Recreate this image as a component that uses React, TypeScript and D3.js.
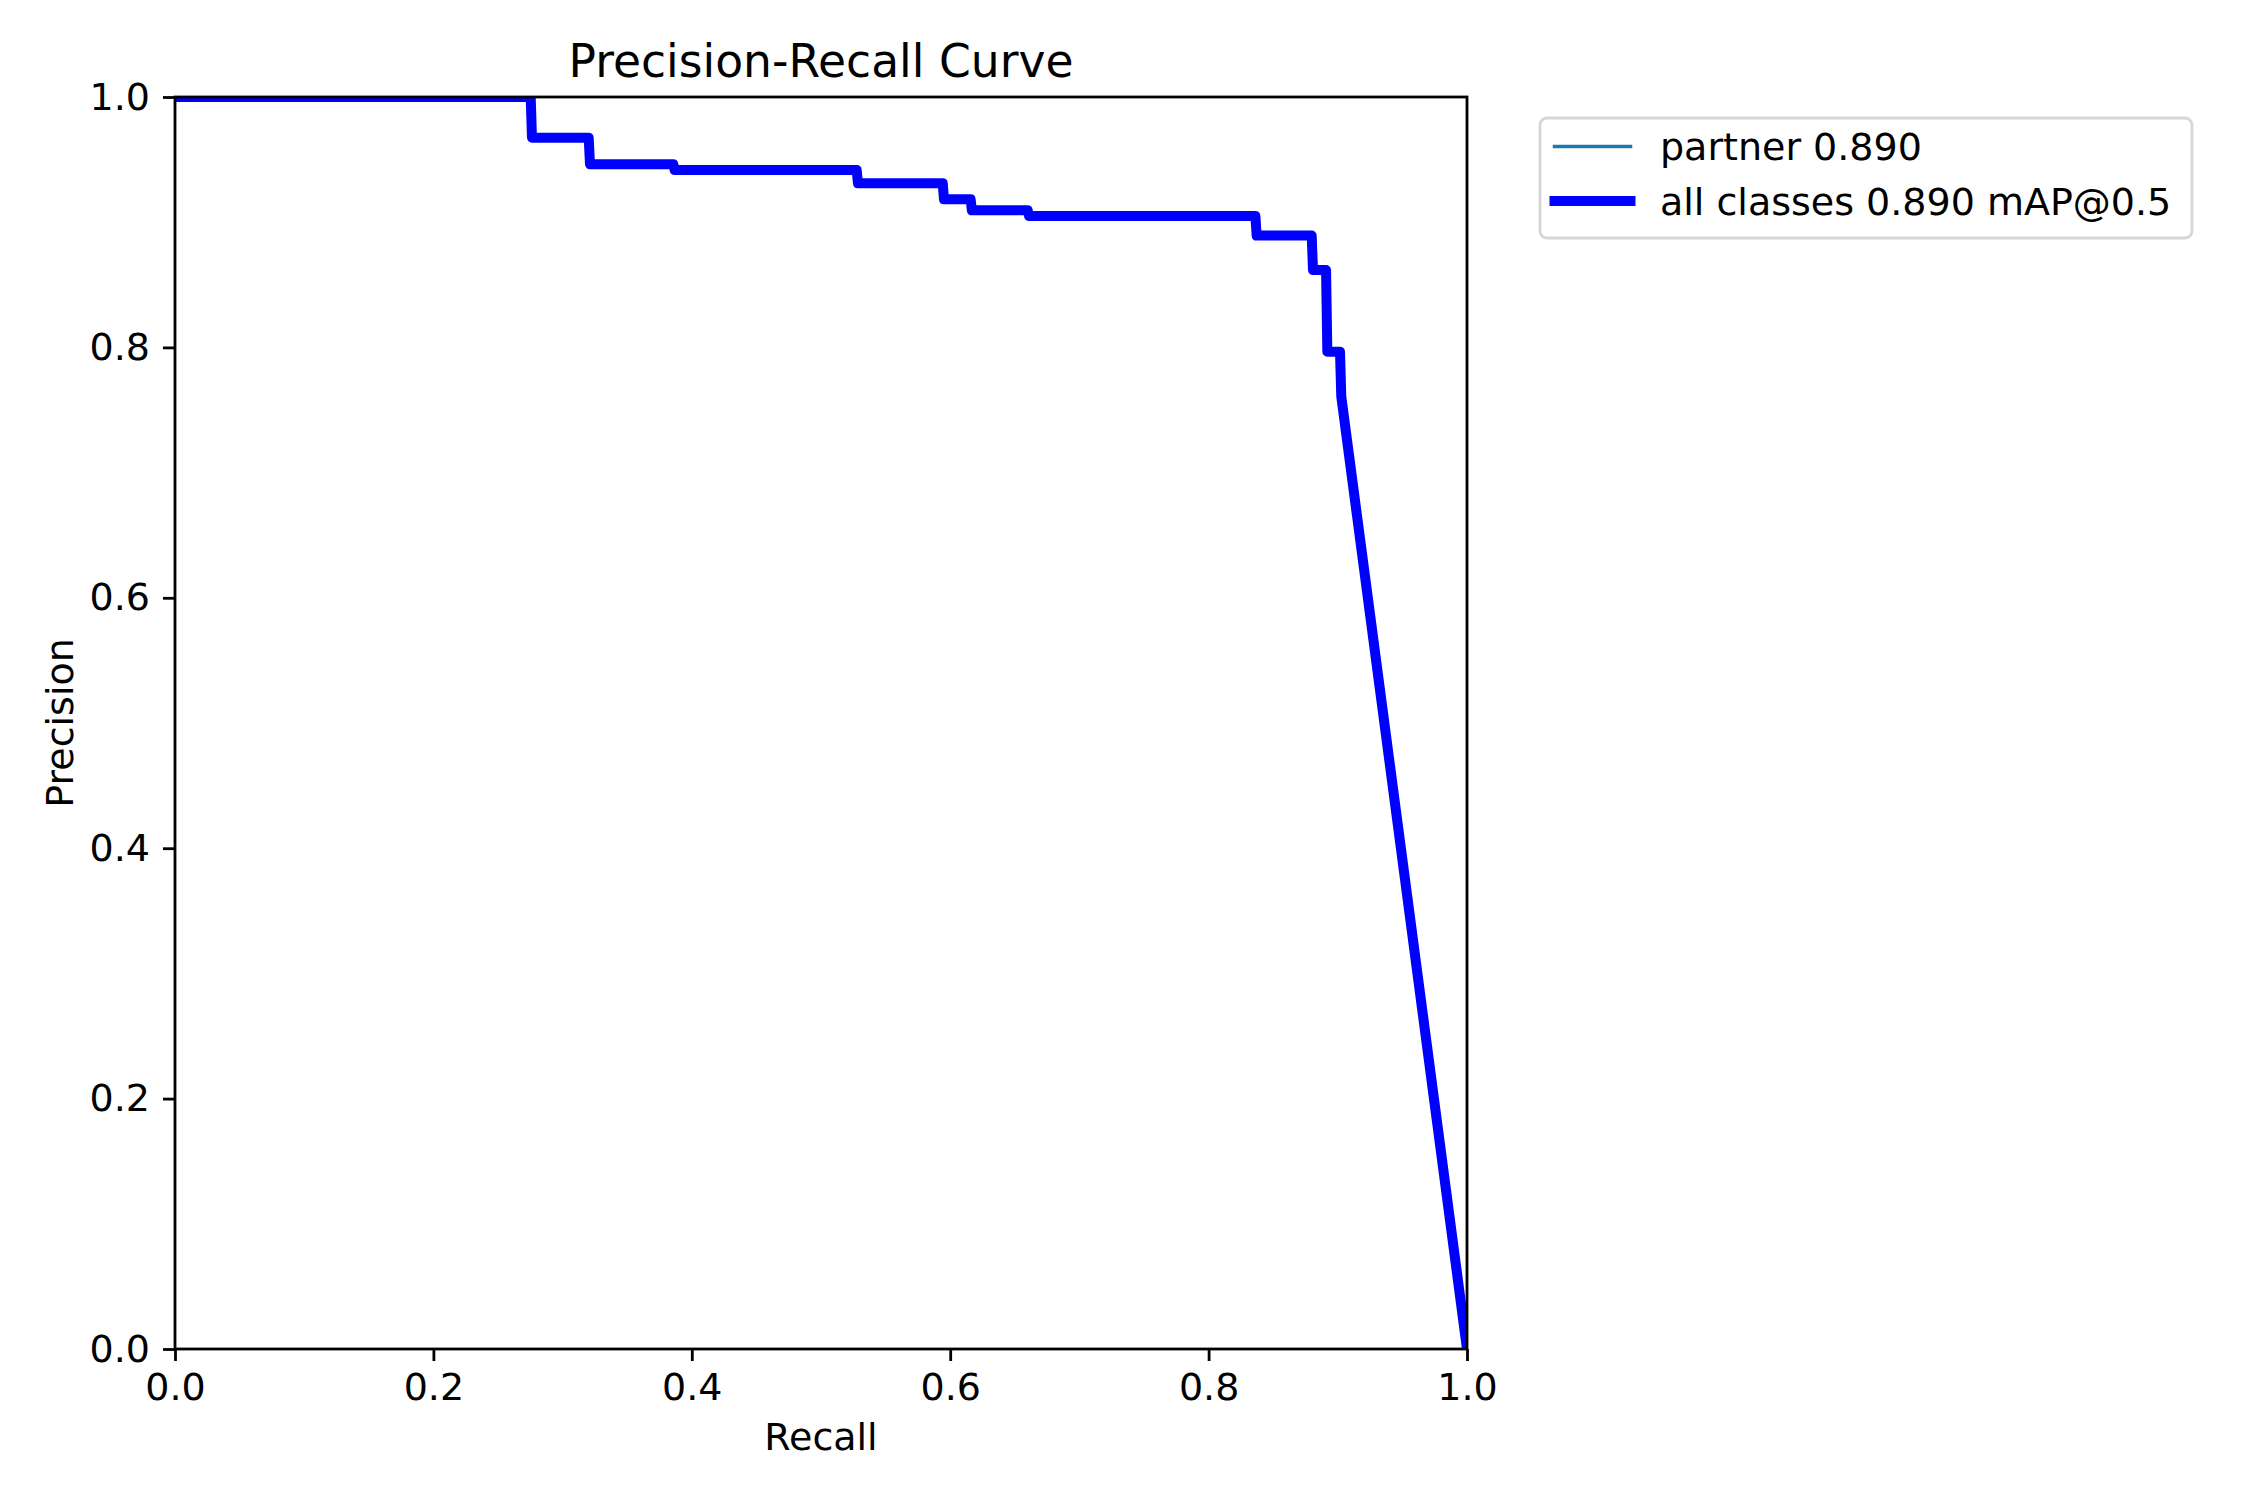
import { useEffect, useRef } from 'react';
import * as React from 'react';
import * as d3 from 'd3';

// PR curve vertices (recall, precision)
const recall = [
    0, 0.2753, 0.2763, 0.3202, 0.3212, 0.3857, 0.3867, 0.5276, 0.5286, 0.5942, 0.5952,
    0.6158, 0.6168, 0.66, 0.661, 0.8362, 0.8372, 0.8798, 0.8808, 0.8909, 0.8919, 0.9017,
    0.9027, 1.0,
];
const precision = [
    1, 1, 0.9675, 0.9675, 0.9462, 0.9462, 0.9417, 0.9417, 0.9311, 0.9311, 0.9183,
    0.9183, 0.9095, 0.9095, 0.905, 0.905, 0.8893, 0.8893, 0.8618, 0.8618, 0.7966, 0.7966,
    0.7607, 0,
];

const xTicks = [0, 0.2, 0.4, 0.6, 0.8, 1.0];
const yTicks = [0, 0.2, 0.4, 0.6, 0.8, 1.0];
const seriesLabels = ['partner 0.890', 'all classes 0.890 mAP@0.5'];
const seriesColors = ['#1f77b4', '#0000ff'];
const seriesWidths = [3.5, 10];

const App: React.FC = () => {
    const ref = useRef<SVGSVGElement>(null);

    useEffect(() => {
        const svgWidth = 2250, svgHeight = 1500;
        const margin = { top: 97, right: 783, bottom: 151, left: 175 };
        const width = svgWidth - margin.left - margin.right;
        const height = svgHeight - margin.top - margin.bottom;
        const font = 'DejaVu Sans, sans-serif';

        const root = d3.select(ref.current);
        root.selectAll('*').remove();
        root.attr('width', svgWidth).attr('height', svgHeight);

        root.append('rect')
            .attr('width', svgWidth)
            .attr('height', svgHeight)
            .attr('fill', '#fff');

        const svg = root.append('g')
            .attr('transform', `translate(${margin.left},${margin.top})`);

        const xScale = d3.scaleLinear().domain([0, 1]).range([0, width]);
        const yScale = d3.scaleLinear().domain([0, 1]).range([height, 0]);

        svg.append('clipPath')
            .attr('id', 'plot-clip')
            .append('rect')
            .attr('width', width)
            .attr('height', height);

        const points: [number, number][] = recall.map((r, i) => [r, precision[i]]);
        const line = d3.line<[number, number]>()
            .x(d => xScale(d[0]))
            .y(d => yScale(d[1]));

        // class curve first, the mean curve on top of it
        seriesLabels.forEach((_label, i) => {
            svg.append('path')
                .datum(points)
                .attr('clip-path', 'url(#plot-clip)')
                .attr('fill', 'none')
                .attr('stroke', seriesColors[i])
                .attr('stroke-width', seriesWidths[i])
                .attr('stroke-linejoin', 'round')
                .attr('stroke-linecap', 'square')
                .attr('d', line);
        });

        // axes
        const xAxis = svg.append('g')
            .attr('transform', `translate(0,${height})`)
            .call(d3.axisBottom(xScale)
                .tickValues(xTicks)
                .tickFormat(d3.format('.1f'))
                .tickSize(12)
                .tickSizeOuter(0)
                .tickPadding(12));
        const yAxis = svg.append('g')
            .call(d3.axisLeft(yScale)
                .tickValues(yTicks)
                .tickFormat(d3.format('.1f'))
                .tickSize(12)
                .tickSizeOuter(0)
                .tickPadding(13));
        [xAxis, yAxis].forEach(ax => {
            ax.select('.domain').remove();
            ax.selectAll('line').attr('stroke', '#000').attr('stroke-width', 2.8);
            ax.selectAll('text')
                .attr('fill', '#000')
                .attr('font-family', font)
                .attr('font-size', 38);
        });

        // spines
        svg.append('rect')
            .attr('width', width)
            .attr('height', height)
            .attr('fill', 'none')
            .attr('stroke', '#000')
            .attr('stroke-width', 2.8);

        // title and axis labels
        svg.append('text')
            .attr('x', width / 2)
            .attr('y', -20)
            .attr('text-anchor', 'middle')
            .attr('font-family', font)
            .attr('font-size', 45.6)
            .text('Precision-Recall Curve');

        svg.append('text')
            .attr('x', width / 2)
            .attr('y', height + 101)
            .attr('text-anchor', 'middle')
            .attr('font-family', font)
            .attr('font-size', 38)
            .text('Recall');

        svg.append('text')
            .attr('transform', `translate(${72.7 - margin.left},${height / 2}) rotate(-90)`)
            .attr('text-anchor', 'middle')
            .attr('font-family', font)
            .attr('font-size', 38)
            .text('Precision');

        // legend
        const legend = root.append('g').attr('transform', 'translate(1540,118)');
        legend.append('rect')
            .attr('width', 652)
            .attr('height', 120)
            .attr('rx', 7)
            .attr('fill', '#fff')
            .attr('fill-opacity', 0.8)
            .attr('stroke', '#d6d6d6')
            .attr('stroke-width', 2.8);

        seriesLabels.forEach((label, i) => {
            const cy = 28.5 + i * 54.5;
            legend.append('line')
                .attr('x1', 14.5)
                .attr('x2', 90.5)
                .attr('y1', cy)
                .attr('y2', cy)
                .attr('stroke', seriesColors[i])
                .attr('stroke-width', seriesWidths[i])
                .attr('stroke-linecap', 'square');
            legend.append('text')
                .attr('x', 120)
                .attr('y', cy + 13.5)
                .attr('font-family', font)
                .attr('font-size', 38)
                .attr('fill', '#000')
                .text(label);
        });
    }, []);

    return <svg ref={ref} style={{ position: 'absolute', left: 0, top: 0 }} />;
};

export default App;
